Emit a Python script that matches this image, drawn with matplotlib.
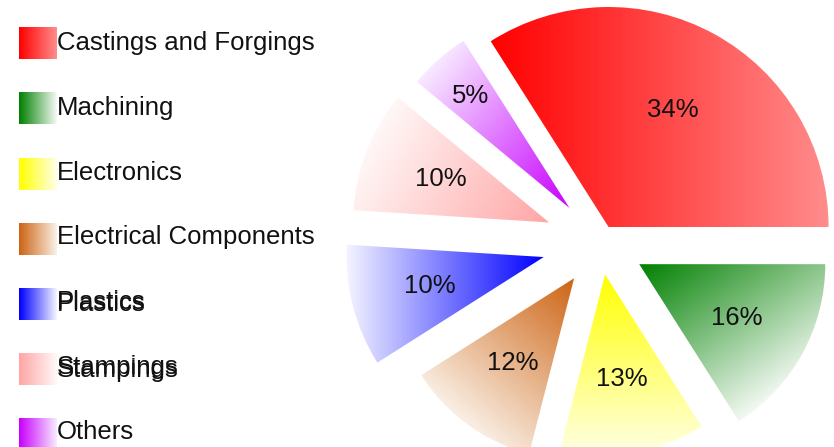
import numpy as np
import matplotlib
matplotlib.use("Agg")
import matplotlib.pyplot as plt
from matplotlib.colors import to_rgb

plt.rcParams['font.family'] = ['Liberation Sans', 'DejaVu Sans']

# data
categories = ["Castings and Forgings", "Machining", "Electronics",
              "Electrical Components", "Plastics", "Stampings", "Others"]
shares = [34, 16, 13, 12, 10, 10, 5]

# styles (per slice)
dark = ["#ff0000", "#008000", "#ffff00", "#cd6414", "#0000ff", "#ffa5a5", "#c800ff"]
light = ["#ff8c8c", "#f5faf5", "#ffffe6", "#faf0e6", "#f5f5ff", "#fff8f8", "#f8ebff"]
grad_dir = [0, -55, -90, -130, 180, 150, 140]     # gradient direction, degrees
explode_px = [17.8, 44.8, 32.3, 44.0, 58.1, 54.7, 46.1]
radius_px = [220, 186, 180, 181, 197, 196, 198]
label_px = [133, 111, 106, 105, 118, 117, 149]
ghost_px = [0, 0, 0, 0, 1.5, 3, 0]   # doubled legend text in the original

W, H = 834, 447
R0 = 190
fig = plt.figure(figsize=(W / 100, H / 100), dpi=100)
ax = fig.add_axes([0, 0, 1, 1])

# explode is in data units here (pixels)
wedges, _ = ax.pie(shares, startangle=122.4, counterclock=False, radius=R0,
                   center=(600, 204.4), explode=explode_px,
                   wedgeprops=dict(linewidth=0))

xx, yy = np.meshgrid(np.arange(W) + 0.5, np.arange(H) + 0.5)

for i, w in enumerate(wedges):
    w.set_radius(radius_px[i])
    w.set_facecolor('none')
    w.set_edgecolor('none')
    cx, cy = w.center
    g = np.deg2rad(grad_dir[i])
    gx, gy = np.cos(g), np.sin(g)
    v = w.get_path().vertices
    proj = (v[:, 0] - cx) * gx + (v[:, 1] - cy) * gy
    s = (xx - cx) * gx + (yy - cy) * gy
    t = np.clip((s - proj.min()) / (proj.max() - proj.min()), 0, 1)[..., None]
    c0, c1 = np.array(to_rgb(dark[i])), np.array(to_rgb(light[i]))
    img = c0 + t * (c1 - c0)
    im = ax.imshow(img, extent=(0, W, 0, H), origin='lower', zorder=2,
                   interpolation='bilinear')
    im.set_clip_path(w)

    mid = np.deg2rad((w.theta1 + w.theta2) / 2)
    ax.text(cx + label_px[i] * np.cos(mid), cy + label_px[i] * np.sin(mid),
            f"{shares[i]}%", ha='center', va='center', fontsize=18.5,
            color='#111111', zorder=3)

# legend
ramp = np.linspace(0, 1, 64)[None, :, None]
for i, name in enumerate(categories):
    top = 27 + 65.3 * i
    c0, c1 = np.array(to_rgb(dark[i])), np.array(to_rgb(light[i]))
    sw = c0 + ramp * (c1 - c0)
    ax.imshow(sw, extent=(19, 57, H - top - 32, H - top), zorder=2,
              interpolation='bilinear')
    ty = H - (43 + 64.8 * i)
    ax.text(57, ty, name, ha='left', va='center', fontsize=18.5, color='#111111')
    if ghost_px[i]:
        ax.text(57, ty - ghost_px[i], name, ha='left', va='center',
                fontsize=18.5, color='#111111')

ax.set_xlim(0, W)
ax.set_ylim(0, H)
ax.set_aspect('equal')
ax.axis('off')

fig.savefig("out.png", dpi=100)
